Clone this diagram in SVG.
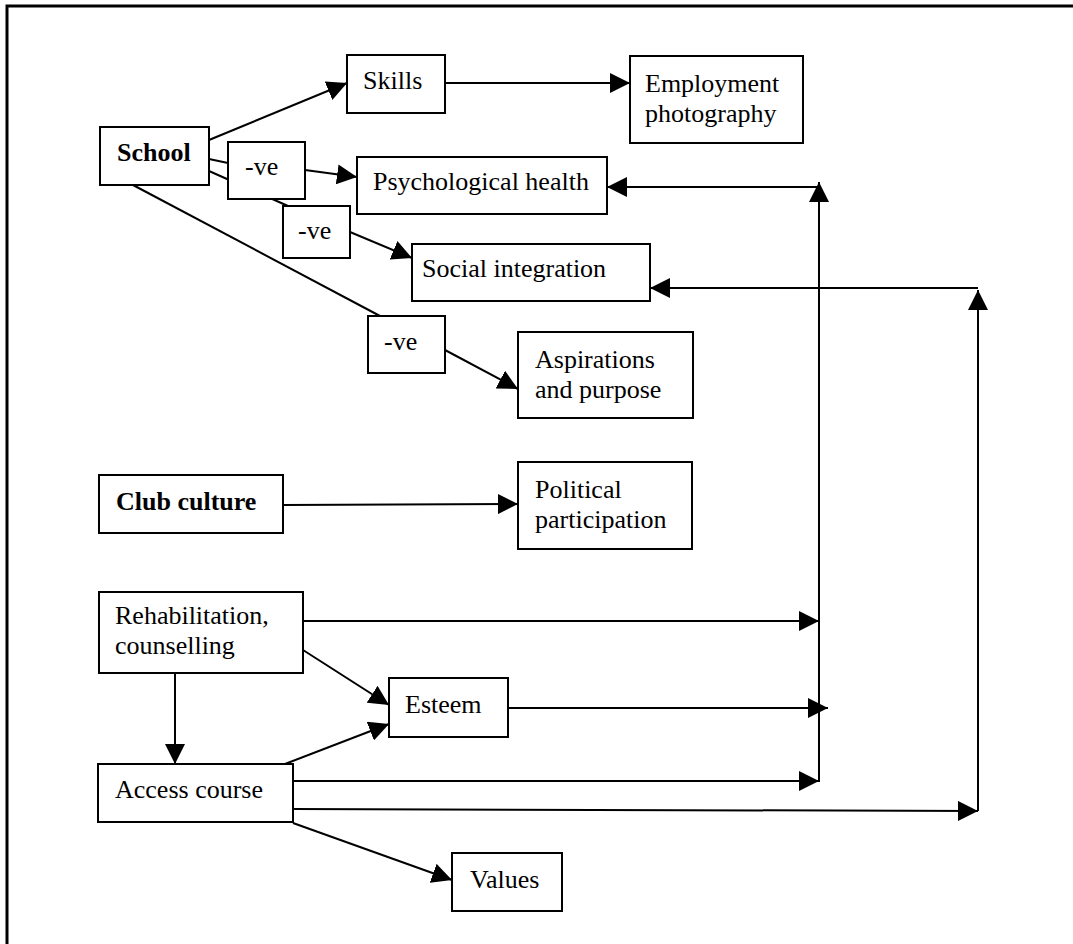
<svg xmlns="http://www.w3.org/2000/svg" width="1073" height="944" viewBox="0 0 1073 944">
<style>
.box{fill:#fff;stroke:#000;stroke-width:2}
.ln{fill:none;stroke:#000;stroke-width:2}
.ar{fill:none;stroke:#000;stroke-width:2;marker-end:url(#ah)}
text{font-family:"Liberation Serif","Times New Roman",serif;font-size:26px;fill:#000}
.b{font-weight:bold}
</style>
<defs>
<marker id="ah" markerUnits="userSpaceOnUse" markerWidth="20" markerHeight="20" refX="20" refY="10" orient="auto" viewBox="0 0 20 20">
<path d="M0,0 L20,10 L0,20 z" fill="#000"/>
</marker>
</defs>
<rect width="1073" height="944" fill="#fff"/>
<path d="M7,944 V6 H1073" fill="none" stroke="#000" stroke-width="3"/>
<g id="connectors">
<line class="ar" x1="209" y1="140" x2="347" y2="83"/>
<line class="ln" x1="209" y1="159" x2="228" y2="163"/>
<line class="ar" x1="305" y1="170" x2="357" y2="177"/>
<line class="ln" x1="209" y1="171" x2="288" y2="206"/>
<line class="ar" x1="350" y1="232" x2="412" y2="258"/>
<line class="ln" x1="133" y1="185" x2="380" y2="316"/>
<line class="ar" x1="445" y1="350" x2="518" y2="389"/>
<line class="ar" x1="445" y1="83" x2="630" y2="83"/>
<line class="ar" x1="283" y1="505" x2="518" y2="504"/>
<line class="ar" x1="819" y1="782" x2="819" y2="182"/>
<line class="ar" x1="819" y1="187" x2="607" y2="187"/>
<line class="ar" x1="978" y1="811" x2="978" y2="290"/>
<line class="ar" x1="978" y1="288" x2="650" y2="288"/>
<line class="ar" x1="303" y1="621" x2="819" y2="621"/>
<line class="ar" x1="303" y1="650" x2="389" y2="705"/>
<line class="ar" x1="175" y1="673" x2="175" y2="764"/>
<line class="ar" x1="508" y1="708" x2="828" y2="708"/>
<line class="ar" x1="285" y1="764" x2="389" y2="724"/>
<line class="ar" x1="293" y1="781" x2="819" y2="781"/>
<line class="ar" x1="293" y1="809" x2="978" y2="811"/>
<line class="ar" x1="293" y1="823" x2="452" y2="880"/>
</g>
<g id="school"><rect class="box" x="100" y="127" width="109" height="58"/><text class="b" x="117" y="161">School</text></g>
<g id="skills"><rect class="box" x="347" y="55" width="98" height="58"/><text x="363" y="89">Skills</text></g>
<g id="employment"><rect class="box" x="630" y="56" width="173" height="87"/><text x="645" y="92">Employment</text><text x="645" y="122">photography</text></g>
<g id="neg1"><rect class="box" x="228" y="142" width="77" height="57"/><text x="245" y="175">-ve</text></g>
<g id="psych"><rect class="box" x="357" y="157" width="250" height="57"/><text x="373" y="190">Psychological health</text></g>
<g id="neg2"><rect class="box" x="283" y="206" width="67" height="52"/><text x="298" y="239">-ve</text></g>
<g id="social"><rect class="box" x="412" y="244" width="238" height="57"/><text x="422" y="277">Social integration</text></g>
<g id="neg3"><rect class="box" x="368" y="316" width="77" height="57"/><text x="384" y="350">-ve</text></g>
<g id="aspirations"><rect class="box" x="518" y="332" width="175" height="86"/><text x="535" y="368">Aspirations</text><text x="535" y="398">and purpose</text></g>
<g id="club"><rect class="box" x="99" y="475" width="184" height="58"/><text class="b" x="116" y="510">Club culture</text></g>
<g id="political"><rect class="box" x="518" y="462" width="174" height="87"/><text x="535" y="498">Political</text><text x="535" y="528">participation</text></g>
<g id="rehab"><rect class="box" x="99" y="592" width="204" height="81"/><text x="115" y="624">Rehabilitation,</text><text x="115" y="654">counselling</text></g>
<g id="esteem"><rect class="box" x="389" y="678" width="119" height="59"/><text x="405" y="713">Esteem</text></g>
<g id="access"><rect class="box" x="98" y="764" width="195" height="58"/><text x="115" y="798">Access course</text></g>
<g id="values"><rect class="box" x="452" y="853" width="110" height="58"/><text x="470" y="888">Values</text></g>
</svg>
